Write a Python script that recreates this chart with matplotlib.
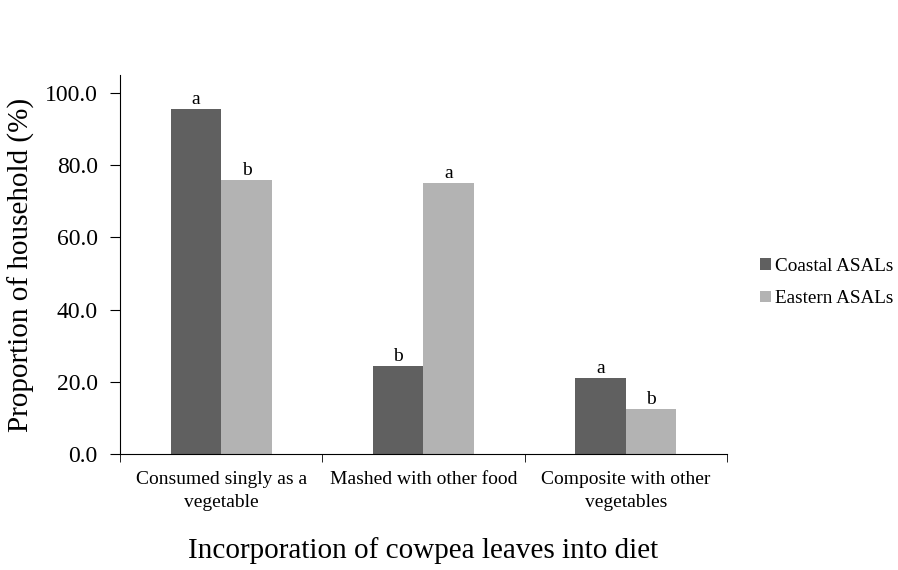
import matplotlib.pyplot as plt
import numpy as np

plt.rcParams['font.family'] = ['Liberation Serif', 'DejaVu Serif']

categories = ["Consumed singly as a\nvegetable", "Mashed with other food",
              "Composite with other\nvegetables"]
coastal = [95.6, 24.4, 21.0]
eastern = [76.0, 75.0, 12.5]
coastal_letters = ["a", "b", "a"]
eastern_letters = ["b", "a", "b"]
yticks = [0, 20, 40, 60, 80, 100]

fig = plt.figure(figsize=(8.98, 5.7), dpi=100)
ax = fig.add_axes([0.1336, 0.2035, 0.676, 0.665])

x = np.arange(len(categories))
w = 0.25
b1 = ax.bar(x - w / 2, coastal, w, color="#606060", label="Coastal ASALs")
b2 = ax.bar(x + w / 2, eastern, w, color="#b3b3b3", label="Eastern ASALs")

for bars, letters in [(b1, coastal_letters), (b2, eastern_letters)]:
    for bar, lab in zip(bars, letters):
        ax.text(bar.get_x() + bar.get_width() / 2, bar.get_height() + 0.3, lab,
                ha="center", va="bottom", fontsize=14)

ax.set_xlim(-0.5, 2.5)
ax.set_ylim(0, 105)
ax.set_yticks(yticks)
ax.set_yticklabels([f"{v:.1f}" for v in yticks], fontsize=17)
ax.set_xticks(x)
ax.set_xticklabels(categories, fontsize=14, linespacing=1.45)
ax.tick_params(axis="x", length=0, pad=12)
ax.set_xticks([-0.5, 0.5, 1.5, 2.5], minor=True)
ax.tick_params(axis="x", which="minor", length=6, direction="out")
ax.tick_params(axis="y", length=7, direction="out", pad=9)
ax.spines["top"].set_visible(False)
ax.spines["right"].set_visible(False)

ax.set_ylabel("Proportion of household (%)", fontsize=21, va="center")
ax.yaxis.set_label_coords(-0.163, 0.5)
ax.set_xlabel("Incorporation of cowpea leaves into diet", fontsize=21, va="center")
ax.xaxis.set_label_coords(0.5, -0.255)

ax.legend(loc="center left", bbox_to_anchor=(1.042, 0.452), frameon=False,
          fontsize=13.8, handlelength=0.55, handleheight=0.55, handletextpad=0.2,
          labelspacing=0.8, borderpad=0.2, borderaxespad=0.2)

fig.savefig("out.png", dpi=100)
